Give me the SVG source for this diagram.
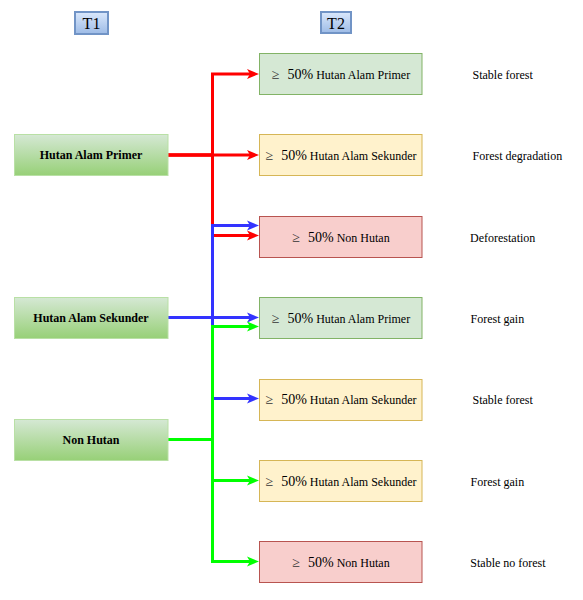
<svg xmlns="http://www.w3.org/2000/svg" width="583" height="600" viewBox="0 0 583 600">
<defs>
<linearGradient id="gBlue" x1="0" y1="0" x2="0" y2="1">
<stop offset="0" stop-color="#dae8fc"/>
<stop offset="1" stop-color="#9dbbe6"/>
</linearGradient>
<linearGradient id="gGreen" x1="0" y1="0" x2="0" y2="1">
<stop offset="0" stop-color="#d5e8d4"/>
<stop offset="1" stop-color="#97d077"/>
</linearGradient>
<marker id="aR" markerUnits="userSpaceOnUse" markerWidth="12" markerHeight="10" refX="3" refY="5" orient="auto" overflow="visible">
<path d="M0,0 L12,5 L0,10 L3,5 Z" fill="#ff0000"/>
</marker>
<marker id="aB" markerUnits="userSpaceOnUse" markerWidth="12" markerHeight="10" refX="3" refY="5" orient="auto" overflow="visible">
<path d="M0,0 L12,5 L0,10 L3,5 Z" fill="#3333ff"/>
</marker>
<marker id="aG" markerUnits="userSpaceOnUse" markerWidth="12" markerHeight="10" refX="3" refY="5" orient="auto" overflow="visible">
<path d="M0,0 L12,5 L0,10 L3,5 Z" fill="#00ff00"/>
</marker>
</defs>
<style>
text{font-family:"Liberation Serif","Times New Roman",serif;fill:#000}
.hdr{fill:url(#gBlue);stroke:#7194c6;stroke-width:2}
.hdrt{font-size:16px;text-anchor:middle}
.src{fill:url(#gGreen);stroke:#b9e0a5;stroke-width:1}
.srct{font-size:12px;font-weight:bold;text-anchor:middle}
.tG{fill:#d5e8d4;stroke:#82b366;stroke-width:1}
.tY{fill:#fff2cc;stroke:#d6b656;stroke-width:1}
.tR{fill:#f8cecc;stroke:#b85450;stroke-width:1}
.tt{font-size:12px;text-anchor:middle}
.big{font-size:14px}
.ge{fill:#333}
.lbl{font-size:12px}
.cR{fill:none;stroke:#ff0000;stroke-width:3;marker-end:url(#aR)}
.cB{fill:none;stroke:#3333ff;stroke-width:3;marker-end:url(#aB)}
.cG{fill:none;stroke:#00ff00;stroke-width:3;marker-end:url(#aG)}
</style>

<g id="T1"><rect class="hdr" x="75" y="12" width="33" height="22"/><text class="hdrt" x="91.5" y="29">T1</text></g>
<g id="T2"><rect class="hdr" x="321" y="12" width="30" height="21"/><text class="hdrt" x="336" y="29">T2</text></g>

<g id="connectors">
<path class="cR" d="M168,155 H212.5 V74 H250"/>
<path class="cR" d="M168,155 H250"/>
<path class="cR" d="M168,155 H212.5 V235.5 H250"/>
<path class="cB" d="M168,317.5 H212.5 V225.5 H250"/>
<path class="cB" d="M168,317.5 H250"/>
<path class="cB" d="M168,317.5 H212.5 V398.5 H250"/>
<path class="cG" d="M168,439.5 H212.5 V326.5 H250"/>
<path class="cG" d="M168,439.5 H212.5 V480.5 H250"/>
<path class="cG" d="M168,439.5 H212.5 V561.5 H250"/>
</g>

<g id="src1"><rect class="src" x="14.5" y="134.5" width="153.5" height="41"/><text class="srct" x="91" y="159">Hutan Alam Primer</text></g>
<g id="src2"><rect class="src" x="14.5" y="297.5" width="153.5" height="41"/><text class="srct" x="91" y="322">Hutan Alam Sekunder</text></g>
<g id="src3"><rect class="src" x="14.5" y="419.5" width="153.5" height="41"/><text class="srct" x="91" y="444">Non Hutan</text></g>

<g id="t1"><rect class="tG" x="259.5" y="53.5" width="162.5" height="41"/><text class="tt" x="341" y="79"><tspan class="big ge">≥</tspan><tspan class="big" dx="8">50%</tspan> Hutan Alam Primer</text></g>
<g id="t2"><rect class="tY" x="259.5" y="134.5" width="162.5" height="41"/><text class="tt" x="341" y="160"><tspan class="big ge">≥</tspan><tspan class="big" dx="8">50%</tspan> Hutan Alam Sekunder</text></g>
<g id="t3"><rect class="tR" x="259.5" y="216.5" width="162.5" height="41"/><text class="tt" x="341" y="242"><tspan class="big ge">≥</tspan><tspan class="big" dx="8">50%</tspan> Non Hutan</text></g>
<g id="t4"><rect class="tG" x="259.5" y="297.5" width="162.5" height="41"/><text class="tt" x="341" y="323"><tspan class="big ge">≥</tspan><tspan class="big" dx="8">50%</tspan> Hutan Alam Primer</text></g>
<g id="t5"><rect class="tY" x="259.5" y="379.5" width="162.5" height="41"/><text class="tt" x="341" y="404"><tspan class="big ge">≥</tspan><tspan class="big" dx="8">50%</tspan> Hutan Alam Sekunder</text></g>
<g id="t6"><rect class="tY" x="259.5" y="460.5" width="162.5" height="41"/><text class="tt" x="341" y="486"><tspan class="big ge">≥</tspan><tspan class="big" dx="8">50%</tspan> Hutan Alam Sekunder</text></g>
<g id="t7"><rect class="tR" x="259.5" y="541.5" width="162.5" height="41"/><text class="tt" x="341" y="567"><tspan class="big ge">≥</tspan><tspan class="big" dx="8">50%</tspan> Non Hutan</text></g>

<g id="labels">
<text class="lbl" x="472.5" y="79">Stable forest</text>
<text class="lbl" x="472.5" y="160">Forest degradation</text>
<text class="lbl" x="470" y="242">Deforestation</text>
<text class="lbl" x="470.5" y="323">Forest gain</text>
<text class="lbl" x="472.5" y="404">Stable forest</text>
<text class="lbl" x="470.5" y="486">Forest gain</text>
<text class="lbl" x="470.3" y="567">Stable no forest</text>
</g>
</svg>
